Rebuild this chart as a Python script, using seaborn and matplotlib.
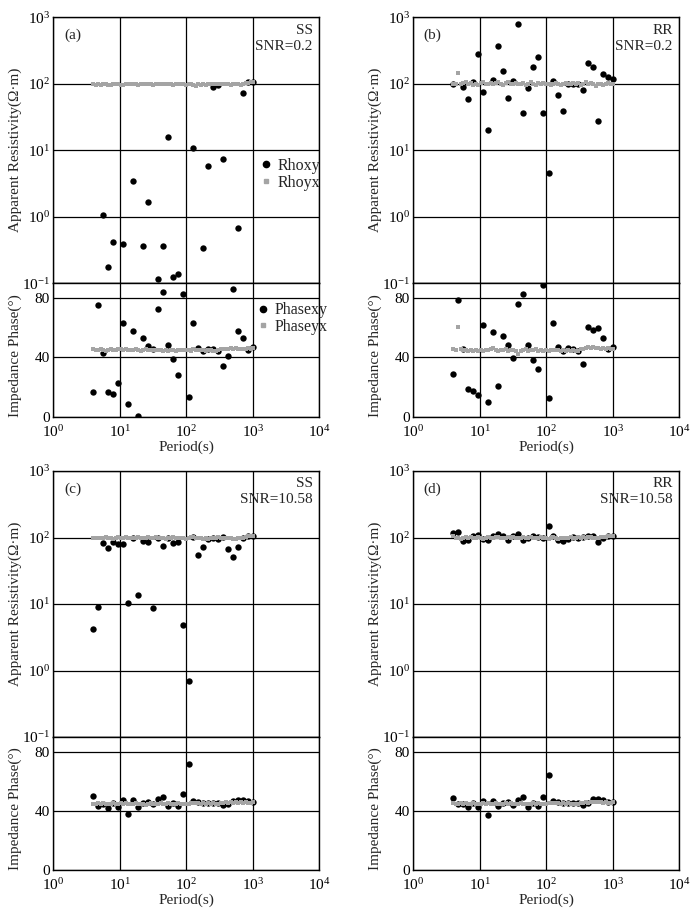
import numpy as np
import matplotlib
matplotlib.use("Agg")
import matplotlib.pyplot as plt
import seaborn as sns
from matplotlib.ticker import LogLocator, NullLocator, FixedLocator
from matplotlib.lines import Line2D

# ---------------------------------------------------------------------------
# data
# ---------------------------------------------------------------------------

# periods of the xy component (black dots)
periods_xy = [4.00, 4.76, 5.66, 6.73, 8.00, 9.51, 11.3, 13.5, 16.0, 19.0, 22.6,
              26.9, 32.0, 38.1, 45.3, 53.8, 64.0, 76.1, 90.5, 108, 128, 152,
              181, 215, 256, 304, 362, 431, 512, 609, 724, 861, 1024]

# periods of the yx component (grey squares, denser sampling)
periods_yx = [4.00, 4.36, 4.76, 5.19, 5.66, 6.17, 6.73, 7.34, 8.00, 8.72, 9.51,
              10.4, 11.3, 12.3, 13.5, 14.7, 16.0, 17.5, 19.0, 20.8, 22.6, 24.7,
              26.9, 29.3, 32.0, 34.9, 38.1, 41.5, 45.3, 49.4, 53.8, 58.7, 64.0,
              69.8, 76.1, 83.0, 90.5, 98.7, 108, 117, 128, 140, 152, 166, 181,
              197, 215, 235, 256, 279, 304, 332, 362, 395, 431, 470, 512, 558,
              609, 664, 724, 790, 861, 939, 1024]

nan = np.nan

# (a) SS, SNR=0.2
rhoxy_a = [nan, nan, 1.06, 0.178, 0.42, nan, 0.39, nan, 3.5, nan, 0.36,
           1.67, nan, 0.115, 0.36, 15.7, 0.123, 0.137, nan, nan, 11.0, nan,
           0.34, 5.9, 90, 96, 7.3, nan, nan, 0.68, 72, 105, 106]
phxy_a = [16.4, 75.1, 43.1, 16.6, 15.5, 22.9, 63.1, 8.3, 57.7, 0.7, 53.0,
          47.9, 45.4, 72.6, 84.2, 48.5, 39.1, 28.3, 82.7, 13.3, 63.1, 46.1,
          44.3, 45.7, 45.4, 44.3, 34.0, 40.7, 86.0, 58.0, 52.8, 45.2, 46.8]
rhoyx_a = [98, 97, 99, 96, 98, 100, 97, 95, 98, 99, 100, 97, 96,
           99, 101, 98, 100, 99, 97, 98, 100, 101, 99, 98, 97, 99,
           100, 98, 99, 101, 100, 98, 97, 99, 100, 99, 98, 96, 99,
           100, 97, 94, 98, 97, 99, 96, 98, 100, 101, 99, 98, 100,
           99, 101, 98, 97, 99, 100, 98, 97, 99, 102, 104, 106, 107]
phyx_a = [45.5, 45.2, 44.8, 45.6, 45.0, 44.6, 45.3, 45.8, 45.1, 44.7, 45.4, 46.0, 45.2,
          45.6, 44.9, 45.3, 45.0, 45.7, 45.2, 44.6, 45.1, 45.5, 44.8, 45.0, 45.3, 44.7,
          45.2, 44.9, 44.5, 45.0, 44.6, 45.2, 44.8, 44.4, 45.1, 44.9, 45.3, 44.7, 45.0,
          44.6, 45.4, 45.1, 44.8, 45.3, 45.0, 44.5, 44.9, 45.2, 44.6, 44.3, 44.8, 45.4,
          45.8, 46.0, 45.5, 46.2, 45.7, 46.1, 45.6, 46.0, 45.4, 45.8, 46.3, 45.9, 46.2]

# (b) RR, SNR=0.2
rhoxy_b = [101, nan, 88, 60, 108, 281, 75, 20.5, 114, 366, 156,
           62, 109, 785, 36, 87.5, 177, 256, 37, 4.5, 112, 67,
           38.5, 100, 100, 100, 80, 203, 181, 28, 142, 125, 118]
phxy_b = [28.9, 78.4, 45.6, 19.0, 17.2, 14.5, 61.7, 9.9, 57.0, 20.8, 54.2,
          48.4, 39.3, 76.2, 82.9, 48.1, 38.4, 32.5, 88.6, 12.4, 63.3, 46.8,
          44.1, 46.3, 45.9, 44.1, 35.7, 60.6, 58.5, 60.1, 53.1, 45.9, 47.2]
rhoyx_b = [101, 99, 144, 98, 103, 106, 99, 104, 97, 100, 96, 103, 107,
           101, 98, 104, 99, 102, 105, 100, 97, 103, 106, 101, 98, 104,
           100, 99, 103, 97, 101, 105, 100, 96, 102, 99, 104, 98, 101,
           97, 100, 103, 99, 95, 101, 104, 100, 98, 102, 100, 103, 97,
           101, 105, 99, 104, 100, 94, 98, 101, 97, 100, 103, 99, 101]
phyx_b = [45.9, 45.2, 60.3, 45.6, 44.8, 45.3, 44.5, 44.9, 44.4, 44.8, 44.6, 45.0, 44.5,
          45.1, 44.7, 45.4, 46.3, 45.0, 44.5, 45.2, 44.7, 45.5, 44.0, 44.8, 45.3, 44.6,
          42.6, 44.3, 45.0, 45.6, 44.6, 45.2, 44.8, 45.5, 44.2, 45.0, 44.6, 45.1, 44.4,
          44.9, 45.3, 44.7, 45.0, 44.3, 45.1, 44.6, 45.2, 44.5, 44.9, 44.2, 44.6, 45.4,
          45.9, 46.3, 46.9, 46.5, 47.0, 46.2, 46.6, 45.9, 46.4, 45.8, 46.1, 45.5, 45.9]

# (c) SS, SNR=10.58
rhoxy_c = [4.25, 9.0, 84, 69, 87, 81, 79, 10.5, 99, 13.8, 88,
           87, 8.7, 100, 74, 98, 82, 85, 4.8, 0.70, 103, 55,
           73, 94, 100, 95, 101, 67, 51, 71, 97, 104, 105]
phxy_c = [50.1, 43.6, 44.9, 42.2, 45.4, 42.9, 47.2, 38.0, 47.2, 43.1, 45.4,
          46.1, 44.7, 47.9, 49.4, 43.4, 45.4, 43.4, 51.7, 71.5, 46.7, 46.1,
          45.4, 45.2, 45.2, 45.2, 44.3, 44.7, 47.0, 47.4, 47.4, 46.5, 46.1]
rhoyx_c = [99, 98, 100, 97, 99, 101, 98, 100, 96, 99, 101, 98, 100,
           102, 99, 97, 100, 98, 101, 99, 97, 100, 102, 98, 99, 101,
           97, 100, 99, 96, 98, 100, 101, 99, 97, 100, 98, 96, 99,
           101, 103, 100, 98, 97, 95, 99, 96, 98, 100, 99, 101, 98,
           100, 97, 99, 98, 96, 95, 97, 99, 100, 102, 104, 106, 107]
phyx_c = [45.0, 44.6, 45.2, 44.8, 45.3, 44.5, 45.1, 44.7, 45.4, 44.9, 44.6, 45.2, 44.8,
          45.5, 44.7, 45.0, 44.5, 45.3, 44.9, 44.6, 45.1, 44.4, 44.8, 45.2, 44.6, 45.0,
          44.7, 45.3, 44.5, 44.9, 45.2, 44.6, 45.0, 44.8, 45.4, 44.7, 45.1, 44.5, 45.0,
          45.6, 45.2, 45.8, 45.4, 45.1, 45.6, 45.0, 45.3, 44.9, 45.2, 44.6, 44.9, 45.3,
          45.7, 46.0, 45.5, 46.1, 45.7, 46.2, 45.8, 46.0, 45.6, 45.9, 45.4, 45.7, 45.9]

# (d) RR, SNR=10.58
rhoxy_d = [116, 119, 90, 93, 104, 110, 94, 92, 104, 112, 104,
           93, 104, 112, 92, 100, 104, 102, 97, 147, 107, 92,
           89, 95, 101, 97, 102, 104, 105, 85, 99, 106, 106]
phxy_d = [48.9, 44.6, 44.8, 42.6, 45.3, 42.6, 46.9, 37.4, 47.1, 43.3, 45.5,
          46.0, 44.4, 47.8, 49.8, 43.0, 45.5, 43.3, 49.4, 64.5, 46.6, 46.2,
          45.3, 45.3, 45.5, 45.5, 44.2, 45.3, 48.2, 48.0, 47.3, 46.4, 46.2]
rhoyx_d = [104, 100, 97, 95, 98, 101, 99, 103, 100, 98, 102, 99, 96,
           99, 101, 100, 98, 103, 101, 99, 97, 100, 102, 98, 101, 99,
           97, 100, 103, 99, 98, 101, 100, 97, 99, 102, 100, 98, 96,
           99, 101, 98, 95, 97, 99, 100, 98, 101, 99, 100, 102, 99,
           101, 100, 103, 101, 99, 97, 100, 102, 101, 103, 104, 105, 106]
phyx_d = [45.6, 45.1, 44.7, 45.3, 44.9, 45.2, 44.6, 45.0, 45.4, 44.8, 45.1, 44.5, 45.2,
          44.9, 45.5, 44.7, 45.0, 45.3, 44.6, 45.1, 44.8, 45.4, 44.9, 45.2, 44.6, 45.0,
          44.7, 45.3, 44.9, 45.1, 44.5, 45.0, 45.4, 44.8, 45.2, 44.7, 45.1, 44.9, 45.3,
          45.5, 45.2, 45.6, 45.3, 45.0, 45.4, 44.9, 45.2, 44.8, 45.1, 44.6, 44.9, 45.2,
          45.8, 46.1, 45.7, 46.2, 45.9, 46.3, 46.0, 46.2, 45.7, 46.0, 45.6, 45.8, 46.0]

panels = [
    ("(a)", "SS", "SNR=0.2", rhoxy_a, rhoyx_a, phxy_a, phyx_a),
    ("(b)", "RR", "SNR=0.2", rhoxy_b, rhoyx_b, phxy_b, phyx_b),
    ("(c)", "SS", "SNR=10.58", rhoxy_c, rhoyx_c, phxy_c, phyx_c),
    ("(d)", "RR", "SNR=10.58", rhoxy_d, rhoyx_d, phxy_d, phyx_d),
]

# ---------------------------------------------------------------------------
# style
# ---------------------------------------------------------------------------
sns.set_style("white")
plt.rcParams["font.family"] = ["Liberation Serif", "DejaVu Serif"]
plt.rcParams["mathtext.fontset"] = "custom"
plt.rcParams["mathtext.rm"] = "Liberation Serif"
plt.rcParams["mathtext.default"] = "regular"

FS = 11
GRAY = "#a4a4a4"
DOT = 21      # black dot size
SQ = 5.5      # grey square size
W, H = 697, 915

fig = plt.figure(figsize=(W / 100, H / 100), dpi=100)
fig.patch.set_facecolor("white")

lefts = [53.3, 413.3, 53.3, 413.3]
tops = [17.3, 17.3, 471.0, 471.0]
axw = 266.0
res_h = 266.0
ph_h = 133.4


def frame(ax):
    for sp in ax.spines.values():
        sp.set_color("black")
        sp.set_linewidth(1.0)
    ax.tick_params(length=0, labelsize=FS, colors="black", pad=2.5)
    ax.grid(True, color="black", linewidth=0.9)
    ax.set_axisbelow(True)


for i, (tag, method, snr, rxy, ryx, pxy, pyx) in enumerate(panels):
    left, top = lefts[i], tops[i]
    ax_r = fig.add_axes([left / W, 1 - (top + res_h) / H, axw / W, res_h / H])
    ax_p = fig.add_axes([left / W, 1 - (top + res_h + ph_h) / H, axw / W, ph_h / H])

    # apparent resistivity
    sns.scatterplot(x=periods_xy, y=rxy, ax=ax_r, color="black", marker="o",
                    s=DOT, linewidth=0, zorder=3, legend=False)
    sns.scatterplot(x=periods_yx, y=ryx, ax=ax_r, color=GRAY, marker="s",
                    s=SQ, linewidth=0, zorder=4, legend=False)
    ax_r.set_xscale("log")
    ax_r.set_yscale("log")
    ax_r.set_xlim(1, 1e4)
    ax_r.set_ylim(0.1, 1000)
    ax_r.xaxis.set_major_locator(LogLocator(base=10, numticks=10))
    ax_r.yaxis.set_major_locator(LogLocator(base=10, numticks=10))
    ax_r.xaxis.set_minor_locator(NullLocator())
    ax_r.yaxis.set_minor_locator(NullLocator())
    ax_r.tick_params(axis="x", labelbottom=False)
    frame(ax_r)
    ax_r.set_ylabel("Apparent Resistivity(Ω·m)", fontsize=FS)
    ax_r.yaxis.set_label_coords(-0.118, 0.5)

    ax_r.text(0.073, 0.933, tag, transform=ax_r.transAxes, ha="center",
              va="center", fontsize=FS)
    ax_r.text(0.975, 0.952, method, transform=ax_r.transAxes, ha="right",
              va="center", fontsize=FS)
    ax_r.text(0.975, 0.892, snr, transform=ax_r.transAxes, ha="right",
              va="center", fontsize=FS)

    # impedance phase
    sns.scatterplot(x=periods_xy, y=pxy, ax=ax_p, color="black", marker="o",
                    s=DOT, linewidth=0, zorder=3, legend=False)
    sns.scatterplot(x=periods_yx, y=pyx, ax=ax_p, color=GRAY, marker="s",
                    s=SQ, linewidth=0, zorder=4, legend=False)
    ax_p.set_xscale("log")
    ax_p.set_xlim(1, 1e4)
    ax_p.set_ylim(0, 90)
    ax_p.xaxis.set_major_locator(LogLocator(base=10, numticks=10))
    ax_p.xaxis.set_minor_locator(NullLocator())
    ax_p.yaxis.set_major_locator(FixedLocator([0, 40, 80]))
    frame(ax_p)
    ax_p.tick_params(axis="x", pad=5)
    ax_p.set_ylabel("Impedance Phase(°)", fontsize=FS)
    ax_p.yaxis.set_label_coords(-0.118, 0.46)
    ax_p.set_xlabel("Period(s)", fontsize=FS, labelpad=0.5)

    if i == 0:
        h_r = [Line2D([], [], ls="", marker="o", color="black", markersize=4.5),
               Line2D([], [], ls="", marker="s", color=GRAY, markersize=2.4)]
        ax_r.legend(h_r, ["Rhoxy", "Rhoyx"], loc="center left",
                    bbox_to_anchor=(0.74, 0.41), frameon=False,
                    fontsize=FS + 0.5, handlelength=0.6, handletextpad=0.4,
                    labelspacing=0.05, borderpad=0.2)
        h_p = [Line2D([], [], ls="", marker="o", color="black", markersize=4.5),
               Line2D([], [], ls="", marker="s", color=GRAY, markersize=2.4)]
        ax_p.legend(h_p, ["Phasexy", "Phaseyx"], loc="center left",
                    bbox_to_anchor=(0.73, 0.735), frameon=False,
                    fontsize=FS + 0.5, handlelength=0.6, handletextpad=0.4,
                    labelspacing=0.05, borderpad=0.2)

fig.savefig("out.png", dpi=100, facecolor="white")
